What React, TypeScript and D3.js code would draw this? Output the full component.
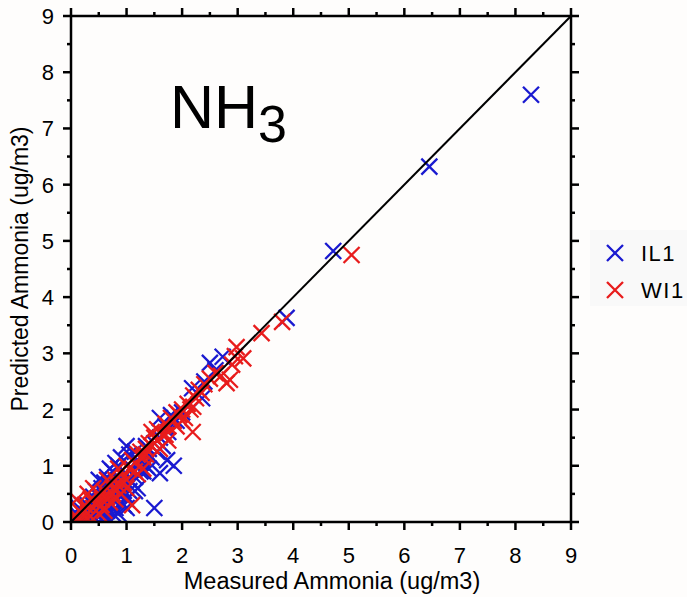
import React from "react";
import * as d3 from "d3";

const IL1: [number, number][] = [
  [0.05,0.05],[0.1,0.0],[0.15,0.1],[0.2,0.05],[0.25,0.15],[0.3,0.0],[0.35,0.2],[0.4,0.1],[0.45,0.05],[0.5,0.0],
  [0.55,0.15],[0.6,0.1],[0.65,0.2],[0.7,0.05],[0.5,0.3],[0.6,0.35],[0.7,0.3],[0.75,0.4],[0.8,0.25],[0.85,0.15],
  [0.9,0.35],[0.95,0.5],[1.0,0.4],[1.05,0.55],[0.8,0.6],[0.7,0.65],[0.6,0.7],[0.55,0.6],[0.4,0.45],[0.3,0.3],
  [0.45,0.55],[0.65,0.8],[0.75,0.9],[0.85,1.0],[0.9,1.15],[1.0,1.35],[1.05,1.2],[0.95,0.85],[1.1,0.95],[1.15,0.8],
  [1.2,1.1],[1.25,1.05],[1.3,1.2],[1.35,1.0],[1.4,1.3],[1.45,1.15],[1.5,1.4],[1.55,1.25],[1.6,1.5],[1.65,1.35],
  [1.6,1.85],[1.7,1.7],[1.75,1.6],[1.8,1.9],[1.85,1.0],[1.73,1.1],[1.6,0.87],[1.5,0.25],[1.2,0.6],[1.1,0.7],
  [0.9,0.7],[1.3,0.9],[1.4,0.95],[1.9,1.8],[2.0,1.95],[2.18,2.38],[2.36,2.2],[2.5,2.83],[2.73,2.94],[2.6,2.7],
  [2.4,2.5],[3.88,3.63],[4.72,4.82],[6.45,6.32],[8.28,7.6],[1.0,0.25],[0.8,0.45],[0.5,0.45],[0.35,0.05],[0.2,0.3],
  [0.25,0.0],[0.4,0.3],[0.55,0.05],[0.65,0.35],[0.75,0.15],[0.85,0.5],[0.95,0.3],[1.05,0.75],[1.15,0.55],[0.6,0.5],
  [0.7,0.95],[0.8,1.05],[0.5,0.75],[1.25,0.9],[1.35,1.35],[1.15,1.25],[0.9,0.6],[1.0,0.85],[0.15,0.25],[0.45,0.2],
];

const WI1: [number, number][] = [
  [0.1,0.4],[0.05,0.1],[0.15,0.2],[0.2,0.0],[0.25,0.3],[0.3,0.15],[0.35,0.4],[0.4,0.25],[0.45,0.35],[0.5,0.5],
  [0.55,0.4],[0.6,0.55],[0.65,0.45],[0.7,0.7],[0.75,0.6],[0.8,0.75],[0.85,0.65],[0.9,0.9],[0.95,0.8],[1.0,1.0],
  [1.05,0.95],[1.1,1.1],[1.15,0.9],[1.2,1.2],[1.25,1.25],[1.3,1.15],[1.35,1.3],[1.4,1.4],[1.45,1.35],[1.5,1.5],
  [1.55,1.45],[1.6,1.6],[1.65,1.55],[1.7,1.75],[1.75,1.7],[1.8,1.85],[1.85,1.8],[1.9,1.95],[1.95,1.9],[2.0,2.0],
  [2.1,2.1],[2.15,2.0],[2.2,2.25],[2.25,2.2],[2.3,2.35],[2.35,2.3],[2.4,2.45],[2.5,2.55],[2.6,2.65],[2.7,2.6],
  [2.8,2.47],[2.86,2.53],[2.9,2.8],[2.98,3.11],[3.1,2.91],[2.95,2.95],[3.43,3.36],[3.8,3.56],[5.05,4.75],[2.19,1.6],
  [1.1,0.3],[0.6,0.2],[0.7,0.35],[0.9,0.5],[1.0,0.6],[0.4,0.6],[0.3,0.5],[0.2,0.15],[0.5,0.15],[0.8,0.4],
  [1.3,0.95],[1.6,1.3],[1.75,1.45],[1.2,0.85],[0.15,0.05],[1.9,1.7],[2.05,1.85],[0.65,0.75],[0.85,0.95],[1.45,1.6],
  [0.35,0.1],[0.55,0.3],[0.75,0.5],[0.95,0.7],[1.15,1.05],[1.35,1.2],[1.55,1.65],[1.7,1.55],[2.0,1.8],[2.2,2.05],
];

const majorTicks = [0, 1, 2, 3, 4, 5, 6, 7, 8, 9];
const minorTicks = [0.5, 1.5, 2.5, 3.5, 4.5, 5.5, 6.5, 7.5, 8.5];
const seriesNames = ["IL1", "WI1"];
const seriesColors = ["#1a1ad0", "#e81c1c"];

const L = 71, R = 571, T = 16, B = 522;
const FONT = "'Liberation Sans', Arial, Helvetica, sans-serif";

function Cross({ x, y, color, s = 8 }: { x: number; y: number; color: string; s?: number }) {
  return (
    <path
      d={`M${x - s},${y - s}L${x + s},${y + s}M${x - s},${y + s}L${x + s},${y - s}`}
      stroke={color}
      strokeWidth={2.3}
      fill="none"
    />
  );
}

export default function App() {
  const x = d3.scaleLinear().domain([0, 9]).range([L, R]);
  const y = d3.scaleLinear().domain([0, 9]).range([B, T]);
  const series = [IL1, WI1];
  const maj = 8, min = 4;
  return (
    <svg width={687} height={597} style={{ position: "absolute", left: 0, top: 0, background: "#fefdfc" }}>
      <rect x={0} y={0} width={687} height={597} fill="#fefdfc" />
      <defs>
        <clipPath id="plot">
          <rect x={L} y={T} width={R - L} height={B - T} />
        </clipPath>
      </defs>
      <g clipPath="url(#plot)">
        {series.map((pts, si) =>
          pts.map((p, i) => <Cross key={`${si}-${i}`} x={x(p[0])} y={y(p[1])} color={seriesColors[si]} />)
        )}
      </g>
      <line x1={x(0)} y1={y(0)} x2={x(9)} y2={y(9)} stroke="#000" strokeWidth={2} />
      <rect x={L} y={T} width={R - L} height={B - T} fill="none" stroke="#000" strokeWidth={2.5} />
      {majorTicks.map((t) => (
        <g key={`M${t}`} stroke="#000" strokeWidth={2.5}>
          <line x1={x(t)} x2={x(t)} y1={B} y2={B + maj} />
          <line x1={x(t)} x2={x(t)} y1={T} y2={T - maj} />
          <line y1={y(t)} y2={y(t)} x1={L} x2={L - maj} />
          <line y1={y(t)} y2={y(t)} x1={R} x2={R + maj} />
        </g>
      ))}
      {minorTicks.map((t) => (
        <g key={`m${t}`} stroke="#000" strokeWidth={2.5}>
          <line x1={x(t)} x2={x(t)} y1={B} y2={B + min} />
          <line x1={x(t)} x2={x(t)} y1={T} y2={T - min} />
          <line y1={y(t)} y2={y(t)} x1={L} x2={L - min} />
          <line y1={y(t)} y2={y(t)} x1={R} x2={R + min} />
        </g>
      ))}
      {majorTicks.map((t) => (
        <text key={`xl${t}`} x={x(t)} y={563} textAnchor="middle" fontFamily={FONT} fontSize={22} fill="#000">
          {t}
        </text>
      ))}
      {majorTicks.map((t) => (
        <text key={`yl${t}`} x={54} y={y(t) + 8} textAnchor="end" fontFamily={FONT} fontSize={22} fill="#000">
          {t}
        </text>
      ))}
      <text x={332} y={589} textAnchor="middle" fontFamily={FONT} fontSize={23.5} fill="#000">
        Measured Ammonia (ug/m3)
      </text>
      <text
        transform={`translate(28,${(T + B) / 2}) rotate(-90)`}
        textAnchor="middle"
        fontFamily={FONT}
        fontSize={23}
        fill="#000"
      >
        Predicted Ammonia (ug/m3)
      </text>
      <text x={170} y={128} fontFamily={FONT} fontSize={61} fill="#000">
        NH<tspan dy={14} fontSize={52}>3</tspan>
      </text>
      <rect x={590} y={230} width={97} height={76} fill="#f9f9f9" />
      {seriesNames.map((n, i) => (
        <g key={n}>
          <Cross x={615} y={253 + i * 37} color={seriesColors[i]} s={8} />
          <text x={641} y={261 + i * 37} fontFamily={FONT} fontSize={22} letterSpacing={1.5} fill="#000">
            {n}
          </text>
        </g>
      ))}
    </svg>
  );
}
